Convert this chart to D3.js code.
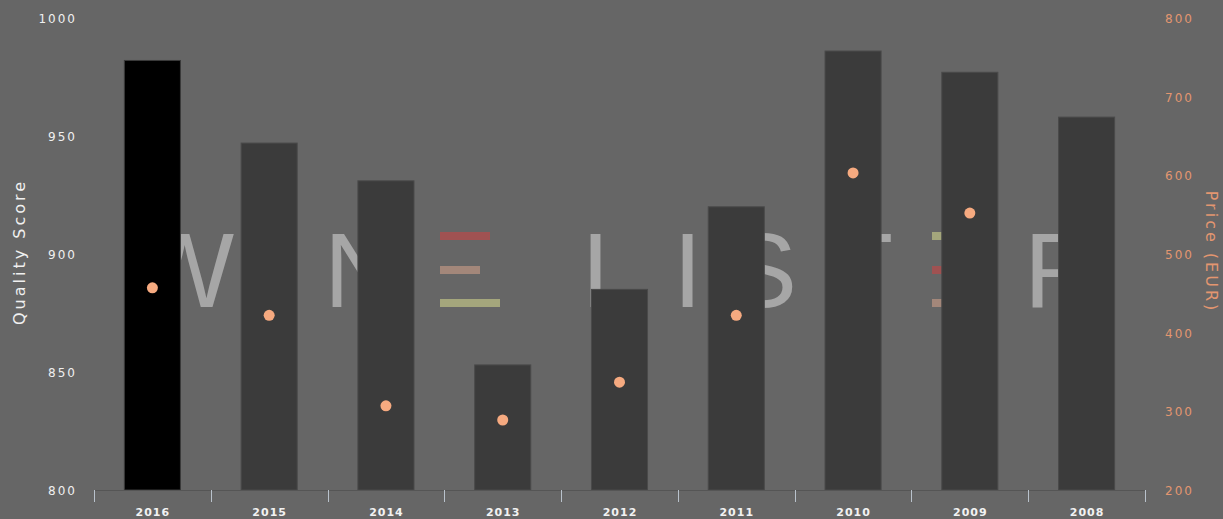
<!DOCTYPE html>
<html>
<head>
<meta charset="utf-8">
<script src="https://cdn.jsdelivr.net/npm/d3@7"></script>
<style>
  html, body { margin: 0; padding: 0; background: #666666; }
  svg { display: block; }
</style>
</head>
<body>
<svg id="chart" width="1223" height="519"></svg>
<script>
// ---- data ----
const years = ["2016", "2015", "2014", "2013", "2012", "2011", "2010", "2009", "2008"];
const qualityScores = [982, 947, 931, 853, 885, 920, 986, 977, 958];
const prices = [457, 422, 307, 289, 337, 422, 603, 552, null];
const leftTicks = [800, 850, 900, 950, 1000];
const rightTicks = [200, 300, 400, 500, 600, 700, 800];
const highlightYear = "2016";

// ---- layout ----
const W = 1223, H = 519;
const plot = { left: 94, right: 1145, top: 18, bottom: 490 };
const svg = d3.select("#chart");

const x = d3.scaleBand().domain(years).range([plot.left, plot.right]).padding(0);
const yL = d3.scaleLinear().domain([800, 1000]).range([plot.bottom, plot.top]);
const yR = d3.scaleLinear().domain([200, 800]).range([plot.bottom, plot.top]);

svg.append("rect").attr("width", W).attr("height", H).attr("fill", "#666666");

// ---- watermark (decorative logo) ----
const wm = svg.append("g").attr("class", "watermark");
const wmLetters = [
  { ch: "W", x: 135 }, { ch: "I", x: 262 }, { ch: "N", x: 324 },
  { ch: "L", x: 582 }, { ch: "I", x: 673 }, { ch: "S", x: 727 },
  { ch: "T", x: 829 }, { ch: "R", x: 1024 }
];
wm.selectAll("text").data(wmLetters).join("text")
  .attr("x", d => d.x).attr("y", 307)
  .attr("font-family", "Liberation Sans, Arial, sans-serif")
  .attr("font-size", 105)
  .attr("fill", "#a6a6a6")
  .text(d => d.ch);
const wmBars = [
  { x: 440, y: 232, w: 50, c: "#a05252" },
  { x: 440, y: 266, w: 40, c: "#a3877a" },
  { x: 440, y: 299, w: 60, c: "#a4a67c" },
  { x: 932, y: 232, w: 60, c: "#a4a67c" },
  { x: 932, y: 266, w: 50, c: "#a05252" },
  { x: 932, y: 299, w: 40, c: "#a3877a" }
];
wm.selectAll("rect").data(wmBars).join("rect")
  .attr("x", d => d.x).attr("y", d => d.y)
  .attr("width", d => d.w).attr("height", 8)
  .attr("fill", d => d.c);

// ---- bars ----
const barW = x.bandwidth() * 0.48;
svg.append("g").selectAll("rect").data(years).join("rect")
  .attr("x", d => x(d) + (x.bandwidth() - barW) / 2)
  .attr("y", (d, i) => yL(qualityScores[i]))
  .attr("width", barW)
  .attr("height", (d, i) => yL(800) - yL(qualityScores[i]))
  .attr("fill", d => d === highlightYear ? "#000000" : "#3b3b3b")
  .attr("stroke", d => d === highlightYear ? "#3a3a3a" : "#4a4a4a")
  .attr("stroke-width", 1);

// ---- price dots ----
svg.append("g").selectAll("circle")
  .data(years.map((y, i) => ({ y, p: prices[i] })).filter(d => d.p != null))
  .join("circle")
  .attr("cx", d => x(d.y) + x.bandwidth() / 2)
  .attr("cy", d => yR(d.p))
  .attr("r", 5.5)
  .attr("fill", "#f6aa80");

// ---- x axis ----
const xAxis = svg.append("g");
xAxis.append("line")
  .attr("x1", plot.left).attr("x2", plot.right)
  .attr("y1", plot.bottom + 0.5).attr("y2", plot.bottom + 0.5)
  .attr("stroke", "#555555").attr("stroke-width", 1);
const edges = years.map(d => x(d)).concat([x.range()[1]]);
xAxis.selectAll("line.tick").data(edges).join("line")
  .attr("class", "tick")
  .attr("x1", d => Math.round(d) + 0.5).attr("x2", d => Math.round(d) + 0.5)
  .attr("y1", plot.bottom).attr("y2", plot.bottom + 12)
  .attr("stroke", "#b9c2cc").attr("stroke-width", 1);
xAxis.selectAll("text").data(years).join("text")
  .attr("x", d => x(d) + x.bandwidth() / 2 + 0.5)
  .attr("y", 516)
  .attr("text-anchor", "middle")
  .attr("font-family", "DejaVu Sans, Verdana, sans-serif")
  .attr("font-size", 11)
  .attr("font-weight", "bold")
  .attr("letter-spacing", 1)
  .attr("fill", "#f2f2f2")
  .text(d => d);

// ---- left axis ----
svg.append("g").selectAll("text").data(leftTicks).join("text")
  .attr("x", 77)
  .attr("y", d => yL(d) + 1)
  .attr("dominant-baseline", "central")
  .attr("text-anchor", "end")
  .attr("font-family", "DejaVu Sans, Verdana, sans-serif")
  .attr("font-size", 12)
  .attr("letter-spacing", 2)
  .attr("fill", "#f0f0f0")
  .text(d => d);

// ---- right axis ----
svg.append("g").selectAll("text").data(rightTicks).join("text")
  .attr("x", 1165)
  .attr("y", d => yR(d) + 1)
  .attr("dominant-baseline", "central")
  .attr("text-anchor", "start")
  .attr("font-family", "DejaVu Sans, Verdana, sans-serif")
  .attr("font-size", 12)
  .attr("letter-spacing", 2)
  .attr("fill", "#e39670")
  .text(d => d);

// ---- axis titles ----
svg.append("text")
  .attr("transform", "translate(19,252) rotate(-90)")
  .attr("text-anchor", "middle")
  .attr("dominant-baseline", "central")
  .attr("font-family", "DejaVu Sans, Verdana, sans-serif")
  .attr("font-size", 16)
  .attr("letter-spacing", 3)
  .attr("fill", "#f0f0f0")
  .text("Quality Score");

svg.append("text")
  .attr("transform", "translate(1211,252) rotate(90)")
  .attr("text-anchor", "middle")
  .attr("dominant-baseline", "central")
  .attr("font-family", "DejaVu Sans, Verdana, sans-serif")
  .attr("font-size", 16)
  .attr("letter-spacing", 3)
  .attr("fill", "#e39670")
  .text("Price (EUR)");
</script>
</body>
</html>
